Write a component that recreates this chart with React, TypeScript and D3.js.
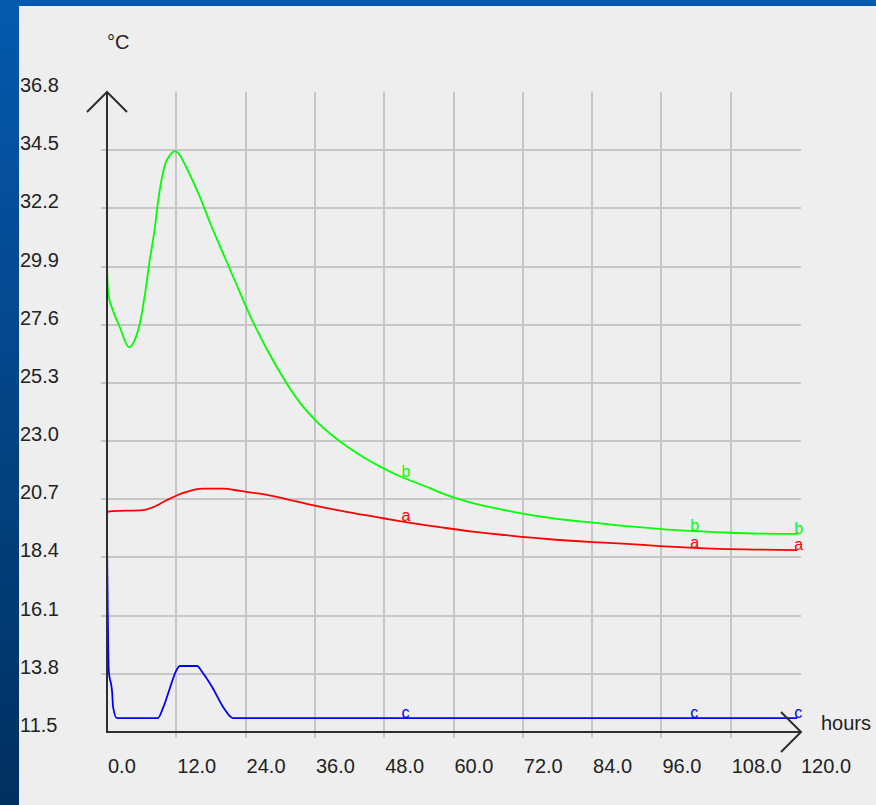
import React from 'react';
import * as d3 from 'd3';

// hours
const xTicks = [0, 12, 24, 36, 48, 60, 72, 84, 96, 108, 120];
// °C
const yTicks = [11.5, 13.8, 16.1, 18.4, 20.7, 23.0, 25.3, 27.6, 29.9, 32.2, 34.5, 36.8];

const seriesNames = ['a', 'b', 'c'];
const seriesColors = ['#ff0000', '#00ff00', '#0000ff'];
const labelHours = [51, 101, 119];

const timeA = [0, 0.1, 1, 6.2, 8, 10.4, 13.2, 16.6, 20.1, 23, 26.5, 30.5, 35.6, 41.5, 47.8, 50.7, 57.6, 63.3, 69.2, 76.2, 84.1, 90, 95.7, 102.6, 119.5];
const valuesA = [20.0, 20.2, 20.23, 20.27, 20.39, 20.67, 20.95, 21.12, 21.12, 21.03, 20.92, 20.74, 20.47, 20.2, 19.95, 19.84, 19.6, 19.42, 19.28, 19.13, 19.01, 18.94, 18.85, 18.77, 18.69];

const timeB = [0, 0.2, 1, 2.2, 3.8, 4.8, 5.7, 6.6, 7.4, 8.3, 8.8, 9.5, 10, 10.9, 11.8, 12.6, 13.5, 14.4, 16.1, 17.8, 19, 20.8, 22.5, 24.2, 25.3, 26.5, 27.7, 31.2, 33.4, 36.4, 39.8, 43.3, 47.8, 50.2, 55.9, 57.6, 63.3, 68, 72, 79.6, 84.1, 90, 95.7, 99.2, 105.6, 113, 119.5];
const valuesB = [29.9, 28.85, 28.18, 27.51, 26.71, 26.99, 27.66, 28.85, 30.15, 31.46, 32.4, 33.4, 33.9, 34.3, 34.46, 34.3, 33.93, 33.5, 32.64, 31.65, 31.0, 30.05, 29.15, 28.25, 27.7, 27.15, 26.62, 25.25, 24.52, 23.75, 23.08, 22.52, 21.93, 21.66, 21.14, 20.97, 20.55, 20.31, 20.13, 19.88, 19.78, 19.64, 19.53, 19.47, 19.4, 19.34, 19.33];

const timeC = [0, 0.15, 0.3, 0.9, 1.05, 1.7, 8.8, 9.7, 10.9, 11.8, 12.6, 15.6, 16.6, 18.3, 20.1, 21.8, 119.5];
const valuesC = [19.0, 15.93, 13.95, 13.04, 12.49, 12.05, 12.05, 12.45, 13.24, 13.83, 14.11, 14.11, 13.83, 13.24, 12.49, 12.05, 12.05];

const series = [
  { times: timeA, values: valuesA },
  { times: timeB, values: valuesB },
  { times: timeC, values: valuesC },
];

const font = '"Liberation Sans", Arial, sans-serif';

function valueAt(times: number[], values: number[], t: number) {
  const i = Math.min(Math.max(d3.bisectLeft(times, t), 1), times.length - 1);
  const k = (t - times[i - 1]) / (times[i] - times[i - 1]);
  return values[i - 1] + k * (values[i] - values[i - 1]);
}

function App() {
  const W = 876;
  const H = 805;
  const x = d3.scaleLinear().domain([0, 120]).range([107, 800]);
  const y = d3.scaleLinear().domain([11.5, 36.8]).range([732, 92]);

  const line = d3
    .line<[number, number]>()
    .x((d) => x(d[0]))
    .y((d) => y(d[1]))
    .curve(d3.curveMonotoneX);

  const x0 = x(0);
  const y0 = y(11.5);
  const xEnd = x(120) + 1;
  const yTop = y(36.8);

  return (
    <svg
      width={W}
      height={H}
      style={{ position: 'absolute', left: 0, top: 0, display: 'block' }}
      fontFamily={font}
    >
      <defs>
        <linearGradient id="bg" x1="0" y1="0" x2="0" y2="1">
          <stop offset="0" stopColor="#0559ae" />
          <stop offset="1" stopColor="#00305f" />
        </linearGradient>
      </defs>
      <rect width={W} height={H} fill="url(#bg)" />
      <rect x={19} y={6} width={W - 19} height={H - 6} fill="#eeeeee" />

      {/* grid */}
      <g stroke="#c6c6c6" strokeWidth={2} shapeRendering="crispEdges">
        {xTicks.slice(1, -1).map((t) => (
          <line key={'gx' + t} x1={x(t)} x2={x(t)} y1={yTop} y2={738} />
        ))}
        {yTicks.slice(1, -1).map((v) => (
          <line key={'gy' + v} x1={101} x2={xEnd} y1={y(v)} y2={y(v)} />
        ))}
      </g>

      {/* curves */}
      {series.map((s, i) => (
        <path
          key={seriesNames[i]}
          d={line(s.times.map((t, j) => [t, s.values[j]]) as [number, number][]) || ''}
          fill="none"
          stroke={seriesColors[i]}
          strokeWidth={1.8}
        />
      ))}

      {/* axes */}
      <g stroke="#2e2e2e" strokeWidth={2} fill="none">
        <line x1={x0} x2={x0} y1={yTop} y2={y0 + 1} />
        <line x1={x0} x2={xEnd} y1={y0} y2={y0} />
        <polyline points={`${x0 - 20},${yTop + 20} ${x0},${yTop} ${x0 + 20},${yTop + 20}`} />
        <polyline points={`${xEnd - 20},${y0 - 20} ${xEnd},${y0} ${xEnd - 20},${y0 + 20}`} />
      </g>

      {/* series labels */}
      {series.map((s, i) =>
        labelHours.map((t) => (
          <text
            key={seriesNames[i] + t}
            x={x(t)}
            y={y(valueAt(s.times, s.values, t))}
            fill={seriesColors[i]}
            fontSize={16}
          >
            {seriesNames[i]}
          </text>
        )),
      )}

      {/* tick labels */}
      <g fill="#222" fontSize={20}>
        {yTicks.map((v) => (
          <text key={'ty' + v} x={20} y={y(v)}>
            {v.toFixed(1)}
          </text>
        ))}
        {xTicks.map((t) => (
          <text key={'tx' + t} x={x(t) + 1} y={773}>
            {t.toFixed(1)}
          </text>
        ))}
        <text x={107} y={49}>°C</text>
        <text x={821} y={730}>hours</text>
      </g>
    </svg>
  );
}

export default App;
